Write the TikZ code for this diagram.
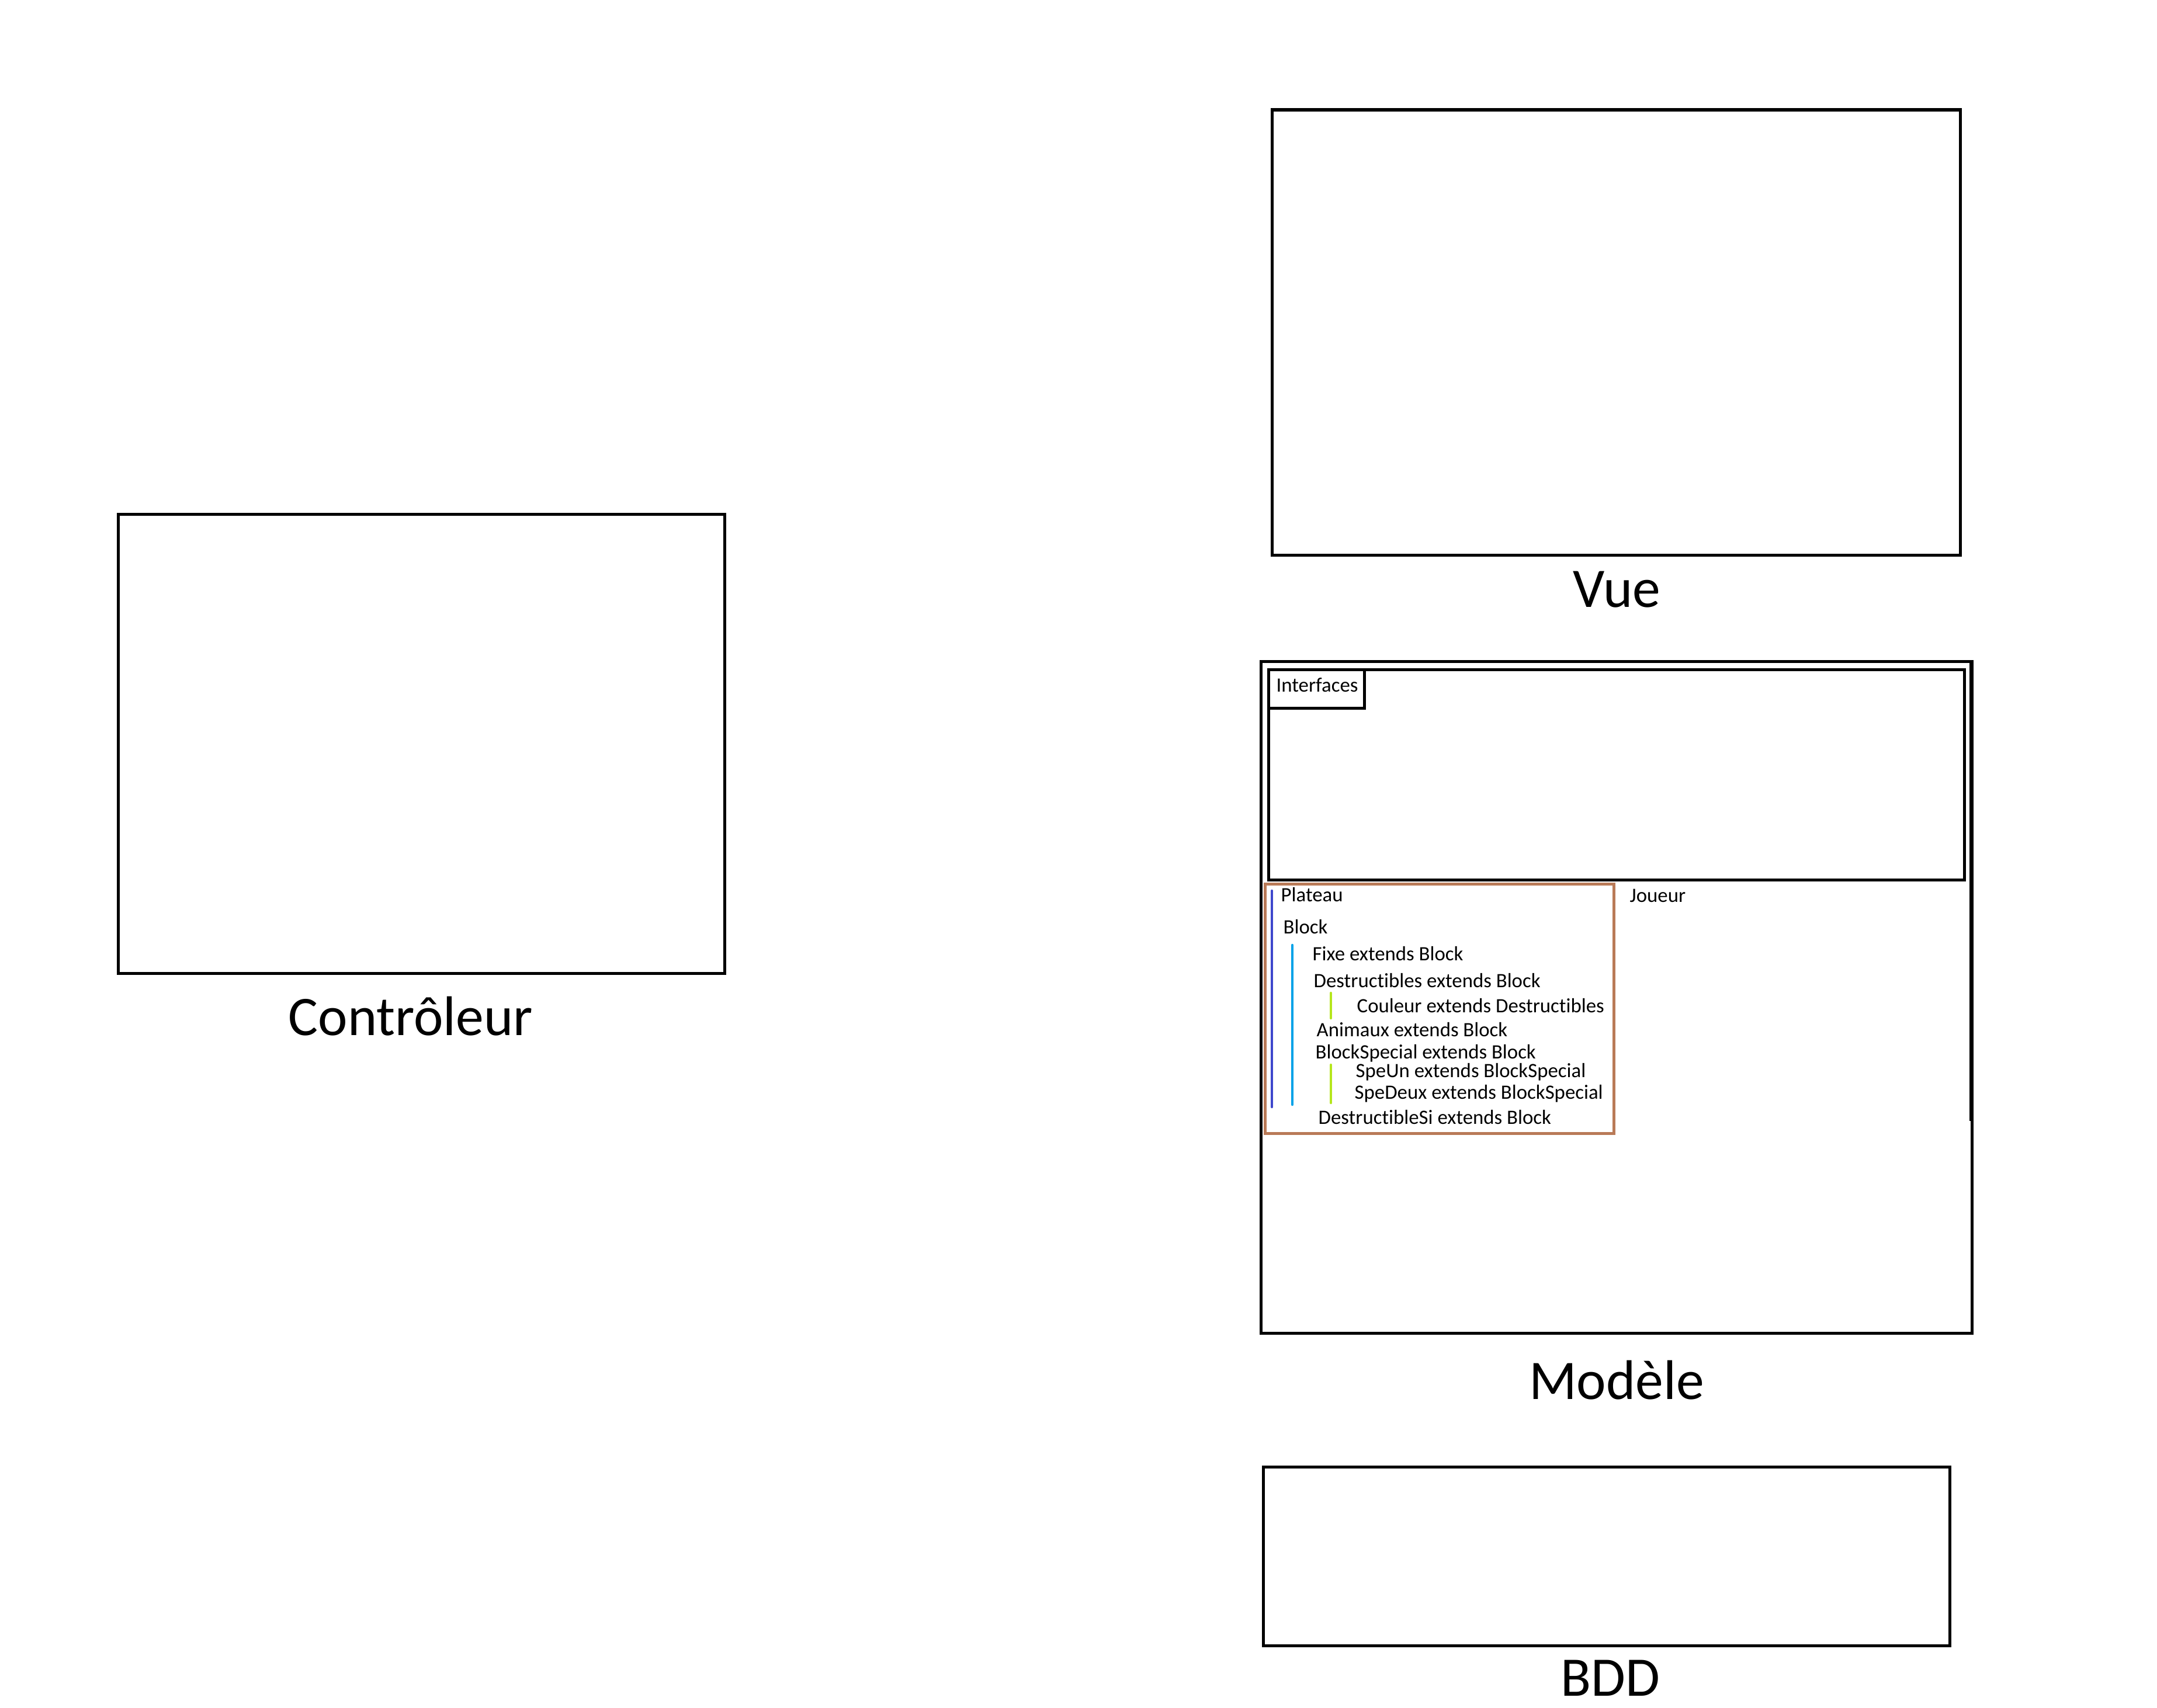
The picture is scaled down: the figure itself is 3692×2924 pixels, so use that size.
\documentclass[tikz,border=0pt]{standalone}
\usepackage{fontspec}
\setmainfont{Carlito}[RawFeature=-liga]
\definecolor{brun}{HTML}{B97A57}
\definecolor{indigo}{HTML}{3F48CC}
\definecolor{azur}{HTML}{00A2E8}
\definecolor{citron}{HTML}{B5E61D}
\begin{document}
\begin{tikzpicture}[x=.01cm,y=-.01cm,
  box/.style={line width=.05cm},
  titre/.style={anchor=base,inner sep=0pt,font=\fontsize{27.2pt}{30pt}\selectfont},
  classe/.style={anchor=base west,inner sep=0pt,font=\fontsize{9.9pt}{11pt}\selectfont},
  trait/.style={line width=.045cm,line cap=round}]
\useasboundingbox (0,0) rectangle (3692,2924);
% Controleur
\draw[box] (202,880) rectangle (1240,1666);
\node[titre] (ctrl) at (703,1772) {Contrôleur};
% Vue
\draw[box] (2177,188) rectangle (3355,950);
\node[titre] (vue) at (2767,1039) {Vue};
% Modele
\draw[box] (2158,1132) rectangle (3375,2282);
\draw[line width=.07cm] (3374.5,1130) -- (3374.5,1919);
\node[titre] (modele) at (2767,2395) {Modèle};
\draw[box] (2171,1146) rectangle (3362,1506);
\draw[box] (2171,1146) rectangle (2335,1212);
\node[classe] (interfaces) at (2184,1184) {Interfaces};
\draw[box,brun] (2165,1513) rectangle (2762,1940);
\node[classe] (joueur) at (2789,1544) {Joueur};
\node[classe] (plateau) at (2192,1543) {Plateau};
\node[classe] (block) at (2196,1598) {Block};
\node[classe] (fixe) at (2246,1644) {Fixe extends Block};
\node[classe] (destr) at (2248,1690) {Destructibles extends Block};
\node[classe] (couleur) at (2322,1733) {Couleur extends Destructibles};
\node[classe] (animaux) at (2253,1774) {Animaux extends Block};
\node[classe] (special) at (2251,1812) {BlockSpecial extends Block};
\node[classe] (speun) at (2320,1844) {SpeUn extends BlockSpecial};
\node[classe] (spedeux) at (2318,1881) {SpeDeux extends BlockSpecial};
\node[classe] (destrsi) at (2256,1924) {DestructibleSi extends Block};
\draw[trait,indigo] (2177,1525) -- (2177,1895);
\draw[trait,azur] (2212,1618) -- (2212,1891);
\draw[trait,citron] (2278,1700) -- (2278,1743);
\draw[trait,citron] (2278,1823) -- (2278,1888);
% BDD
\draw[box] (2162,2511) rectangle (3337,2817);
\node[titre] (bdd) at (2756,2903) {BDD};
\end{tikzpicture}
\end{document}
